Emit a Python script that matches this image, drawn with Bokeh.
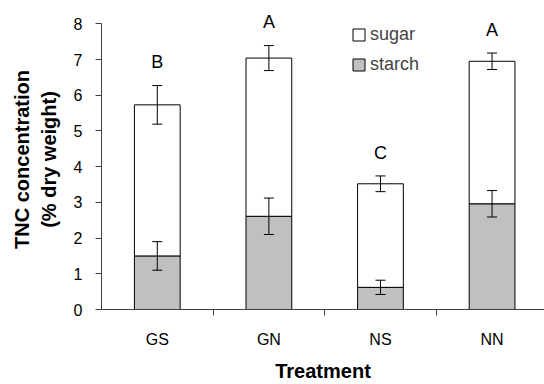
import numpy as np
from bokeh.plotting import figure
from bokeh.models import (ColumnDataSource, Range1d, FixedTicker, Whisker, TeeHead,
                          Legend, LegendItem)
from bokeh.core.properties import value
from bokeh.embed import file_html
from bokeh.resources import INLINE

treatments = ["GS", "GN", "NS", "NN"]
starch = [1.50, 2.61, 0.62, 2.96]
starch_err = [0.40, 0.51, 0.20, 0.37]
total = [5.73, 7.04, 3.52, 6.95]
total_err = [0.54, 0.35, 0.22, 0.23]
letters = ["B", "A", "C", "A"]
y_ticks = [0, 1, 2, 3, 4, 5, 6, 7, 8]

FONT = "Liberation Sans"
AXIS_COL = "#404040"
LETTER_GAP = 0.65  # gap (data units) between error-bar top and letter centre

x = np.arange(len(treatments)) + 0.5
starch_a = np.array(starch)
total_a = np.array(total)
t_up = total_a + np.array(total_err)

src = ColumnDataSource(dict(
    x=x, starch=starch_a, total=total_a,
    s_up=starch_a + np.array(starch_err), s_lo=starch_a - np.array(starch_err),
    t_up=t_up, t_lo=total_a - np.array(total_err),
    let_y=t_up + LETTER_GAP,
    letters=letters,
))

p = figure(width=544, height=384, x_range=Range1d(0, 3.97), y_range=Range1d(0, 8.4),
           output_backend="svg", toolbar_location=None,
           min_border_left=101, min_border_right=0, min_border_top=9, min_border_bottom=75)
p.outline_line_color = None
p.grid.visible = False
p.background_fill_color = "white"

r_starch = p.vbar(x="x", bottom=0, top="starch", width=0.41, source=src,
                  fill_color="#c0c0c0", line_color="black", line_width=1)
r_sugar = p.vbar(x="x", bottom="starch", top="total", width=0.41, source=src,
                 fill_color="white", line_color="black", line_width=1)

for up, lo in (("s_up", "s_lo"), ("t_up", "t_lo")):
    w = Whisker(base="x", upper=up, lower=lo, source=src, line_color="black", line_width=1,
                level="annotation",
                upper_head=TeeHead(size=10, line_color="black", line_width=1),
                lower_head=TeeHead(size=10, line_color="black", line_width=1))
    p.add_layout(w)

p.text(x="x", y="let_y", text="letters", source=src, text_align="center",
       text_baseline="middle", text_font=value(FONT),
       text_font_size="18px", text_color="black")

# axes
xa = p.xaxis[0]
xa.ticker = FixedTicker(ticks=list(x), minor_ticks=list(range(1, len(treatments))))
xa.major_label_overrides = {float(v): t for v, t in zip(x, treatments)}
xa.major_tick_out = 6
xa.major_tick_in = 0
xa.major_tick_line_color = None
xa.minor_tick_out = 6
xa.minor_tick_in = 0
xa.minor_tick_line_color = AXIS_COL
xa.axis_line_color = AXIS_COL
xa.major_label_standoff = 15
xa.major_label_text_font = FONT
xa.major_label_text_font_size = "16px"
xa.major_label_text_color = "black"
xa.axis_label = "Treatment"
xa.axis_label_text_font = FONT
xa.axis_label_text_font_size = "20px"
xa.axis_label_text_font_style = "bold"
xa.axis_label_text_color = "black"
xa.axis_label_standoff = 9

ya = p.yaxis[0]
ya.ticker = FixedTicker(ticks=y_ticks)
ya.bounds = (y_ticks[0], y_ticks[-1])
ya.major_tick_out = 6
ya.major_tick_in = 0
ya.minor_tick_line_color = None
ya.major_tick_line_color = AXIS_COL
ya.axis_line_color = AXIS_COL
ya.major_label_standoff = 13
ya.major_label_text_font = FONT
ya.major_label_text_font_size = "16px"
ya.major_label_text_color = "black"
ya.axis_label = "TNC concentration\n(% dry weight)"
ya.axis_label_text_font = FONT
ya.axis_label_text_font_size = "20px"
ya.axis_label_text_font_style = "bold"
ya.axis_label_text_color = "black"
ya.axis_label_text_line_height = 1.2
ya.axis_label_standoff = 11

legend = Legend(items=[LegendItem(label="sugar", renderers=[r_sugar]),
                       LegendItem(label="starch", renderers=[r_starch])],
                location=(250, 234.5), padding=0, margin=0, spacing=9,
                glyph_width=15, glyph_height=15, label_height=20, label_standoff=4,
                label_text_font=FONT, label_text_font_size="18px",
                border_line_color=None, background_fill_alpha=0)
p.add_layout(legend)

open("out.html", "w").write(file_html(p, INLINE))
